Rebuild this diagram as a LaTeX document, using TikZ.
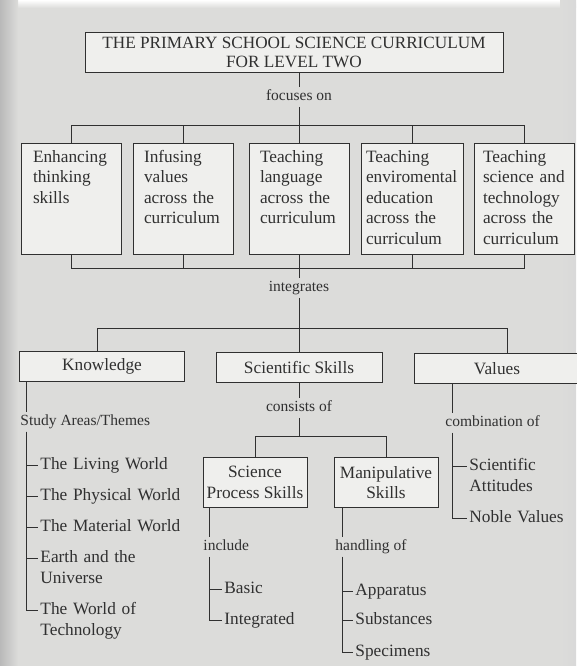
\documentclass[tikz,border=0pt]{standalone}
\usepackage{fontspec}
\setmainfont{Liberation Serif}
\usetikzlibrary{positioning}

\definecolor{paper}{HTML}{DCDCDA}
\definecolor{boxfill}{HTML}{EFEFED}
\definecolor{ink}{HTML}{303030}

\begin{document}
\begin{tikzpicture}[x=1pt, y=-1pt, color=ink, line width=0.9pt,
	rootbox/.style  = {draw, fill=boxfill, align=center, anchor=north, minimum width=418pt, minimum height=40pt, inner sep=2pt, font=\fontsize{17.2}{19}\selectfont},
	topic/.style    = {draw, fill=boxfill, align=left, anchor=north, minimum width=100pt, inner xsep=5pt, inner ysep=4pt, text height=15pt, text depth=88pt, font=\fontsize{17.3}{20.5}\selectfont},
	branch/.style   = {draw, fill=boxfill, align=center, anchor=north, minimum height=30pt, inner sep=2pt, font=\fontsize{17.3}{20.5}\selectfont},
	linkword/.style = {inner xsep=0pt, inner ysep=3pt, text height=10pt, text depth=3pt, font=\fontsize{15.5}{18}\selectfont},
	leaf/.style     = {anchor=west, align=left, text width=170pt, inner xsep=2pt, inner ysep=0pt, text height=12pt, text depth=4pt, font=\fontsize{17.3}{21.5}\selectfont}]

	% scanned page
	\useasboundingbox (0,0) rectangle (576,666);
	\fill[paper] (0,0) rectangle (576,666);
	\shade[top color=white, bottom color=paper] (0,0) rectangle (576,8);
	\shade[left color=gray!55, right color=paper] (0,0) rectangle (18,666);
	\shade[left color=paper, right color=gray!30] (560,0) rectangle (576,666);

	% root of the chart
	\node[rootbox] (root) at (294,32) {THE PRIMARY SCHOOL SCIENCE CURRICULUM\\FOR LEVEL TWO};
	\node[linkword] (focus) at (299,97) {focuses on};
	\coordinate (busA) at (299,125);

	% the five topics
	\node[topic, text width=76pt] (t1) at (71,143) {Enhancing\\thinking\\skills};
	\node[topic, text width=78pt] (t2) at (183,143) {Infusing\\values\\across the\\curriculum};
	\node[topic, text width=78pt] (t3) at (299,143) {Teaching\\language\\across the\\curriculum};
	\node[topic, text width=92pt] (t4) at (412,143) {Teaching\\enviromental\\education\\across the\\curriculum};
	\node[topic, text width=82pt] (t5) at (524,143) {Teaching\\science and\\technology\\across the\\curriculum};

	\draw (focus |- root.south) -- (focus);
	\draw (focus) -- (busA);
	\draw (t1.north) |- (t5.north |- busA) -- (t5.north);
	\foreach \i in {2,3,4}
	\draw (t\i.north) -- (t\i.north |- busA);

	% joined again below the topics
	\coordinate (busB) at (299,268);
	\node[linkword] (integ) at (299,288) {integrates};
	\draw (t1.south) |- (t5.south |- busB) -- (t5.south);
	\foreach \i in {2,4}
	\draw (t\i.south) -- (t\i.south |- busB);
	\draw (t3.south) -- (integ);

	% second level
	\coordinate (busC) at (299,328);
	\node[branch, minimum width=165pt] (know) at (102,351) {Knowledge};
	\node[branch, minimum width=166pt] (sci) at (299,352) {Scientific Skills};
	\node[branch, minimum width=166pt] (val) at (497,353) {Values};

	\coordinate (ktop) at ([xshift=-5pt]know.north);
	\coordinate (vtop) at ([xshift=10pt]val.north);
	\draw (integ) -- (sci.north);
	\draw (ktop) |- (vtop |- busC) -- (vtop);

	% scientific skills split in two
	\node[linkword] (cons) at (299,408) {consists of};
	\coordinate (busD) at (299,436);
	\node[branch, minimum width=104pt, minimum height=50pt] (sps) at (255,457) {Science\\Process Skills};
	\node[branch, minimum width=104pt, minimum height=50pt] (man) at (386,457) {Manipulative\\Skills};
	\draw (sci) -- (cons);
	\draw (cons) -- (busD);
	\draw (sps.north) |- (man.north |- busD) -- (man.north);

	% words on the trunks
	\begin{scope}[every node/.style={linkword, anchor=west}]
		\node (areas) at (20,422) {Study Areas/Themes};
		\node (incl) at (203,547) {include};
		\node (hand) at (335,547) {handling of};
		\node (comb) at (445,423) {combination of};
	\end{scope}

	% lists hanging from the trunks
	\begin{scope}[every node/.style={leaf}]
		\node (liv) at (38,465) {The Living World};
		\node (phy) at (38,496) {The Physical World};
		\node (mat) at (38,527) {The Material World};
		\node (ear) at (38,558) {Earth and the\\Universe};
		\node (tech) at (38,610) {The World of\\Technology};

		\node (bas) at (222,589) {Basic};
		\node (intg) at (222,620) {Integrated};

		\node (app) at (353,591) {Apparatus};
		\node (subs) at (353,620) {Substances};
		\node (spec) at (353,652) {Specimens};

		\node (att) at (467,466) {Scientific\\Attitudes};
		\node (nob) at (467,518) {Noble Values};
	\end{scope}

	% trunks and their ticks
	\coordinate (kx) at ([xshift=7pt]know.south west);
	\coordinate (px) at ([xshift=7pt]sps.south west);
	\coordinate (mx) at ([xshift=9pt]man.south west);
	\coordinate (vx) at ([xshift=39pt]val.south west);

	\draw (kx) -- (kx |- areas.north);
	\foreach \x in {liv,phy,mat,ear,tech}
	\draw (kx |- areas.south) |- (\x.west);

	\draw (px) -- (px |- incl.north);
	\foreach \x in {bas,intg}
	\draw (px |- incl.south) |- (\x.west);

	\draw (mx) -- (mx |- hand.north);
	\foreach \x in {app,subs,spec}
	\draw (mx |- hand.south) |- (\x.west);

	\draw (vx) -- (vx |- comb.north);
	\foreach \x in {att,nob}
	\draw (vx |- comb.south) |- (\x.west);

\end{tikzpicture}
\end{document}
